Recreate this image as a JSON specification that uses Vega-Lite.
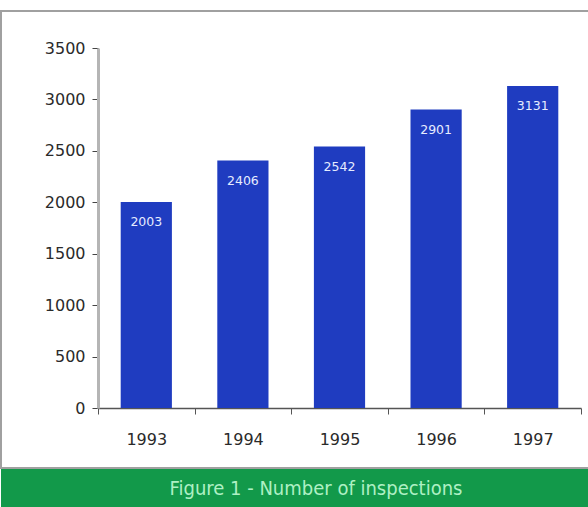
{
  "$schema": "https://vega.github.io/schema/vega-lite/v6.json",
  "padding": {"left": 0, "top": 10, "right": 0, "bottom": 0},
  "spacing": 0,
  "config": {"view": {"stroke": null}, "background": "white", "font": "DejaVu Sans"},
  "datasets": {
    "inspections": [
      {"year": "1993", "n": 2003},
      {"year": "1994", "n": 2406},
      {"year": "1995", "n": 2542},
      {"year": "1996", "n": 2901},
      {"year": "1997", "n": 3131}
    ],
    "caption": [{"caption": "Figure 1 - Number of inspections"}]
  },
  "vconcat": [
    {
      "width": 592,
      "height": 457,
      "view": {"stroke": "#a0a0a0", "strokeWidth": 2, "fill": "white"},
      "data": {"name": "inspections"},
      "encoding": {
        "x": {
          "field": "year", "type": "ordinal",
          "scale": {"range": [97, 580], "paddingInner": 0, "paddingOuter": 0},
          "axis": {"title": null, "offset": -60, "labelAngle": 0, "tickBand": "extent", "domainColor": "#555", "domainWidth": 1.5, "tickColor": "#555", "tickSize": 6, "labelFont": "DejaVu Sans", "labelFontSize": 16, "labelColor": "#2a2a2a", "labelPadding": 17}
        },
        "y": {
          "field": "n", "type": "quantitative",
          "scale": {"domain": [0, 3500], "range": [397, 37]},
          "axis": {"title": null, "offset": -97, "format": "d", "values": [0, 500, 1000, 1500, 2000, 2500, 3000, 3500], "grid": false, "domainColor": "#b5b5b5", "domainWidth": 3, "tickColor": "#444", "tickSize": 6, "labelPadding": 7, "labelFont": "DejaVu Sans", "labelFontSize": 16, "labelColor": "#2a2a2a"}
        }
      },
      "layer": [
        {"mark": {"type": "bar", "color": "#1f3cc0", "width": {"band": 0.53}}},
        {"mark": {"type": "text", "color": "#e6ecff", "fontSize": 12.5, "font": "DejaVu Sans", "dy": 20, "baseline": "middle"},
         "encoding": {"text": {"field": "n", "type": "quantitative", "format": "d"}}}
      ]
    },
    {
      "width": 592,
      "height": 39,
      "view": {"fill": "#12994a", "stroke": null},
      "data": {"name": "caption"},
      "mark": {"type": "text", "color": "#aef0c4", "fontSize": 20, "dx": 19, "font": "DejaVu Sans Condensed, Liberation Sans"},
      "encoding": {"text": {"field": "caption", "type": "nominal"}}
    }
  ]
}
